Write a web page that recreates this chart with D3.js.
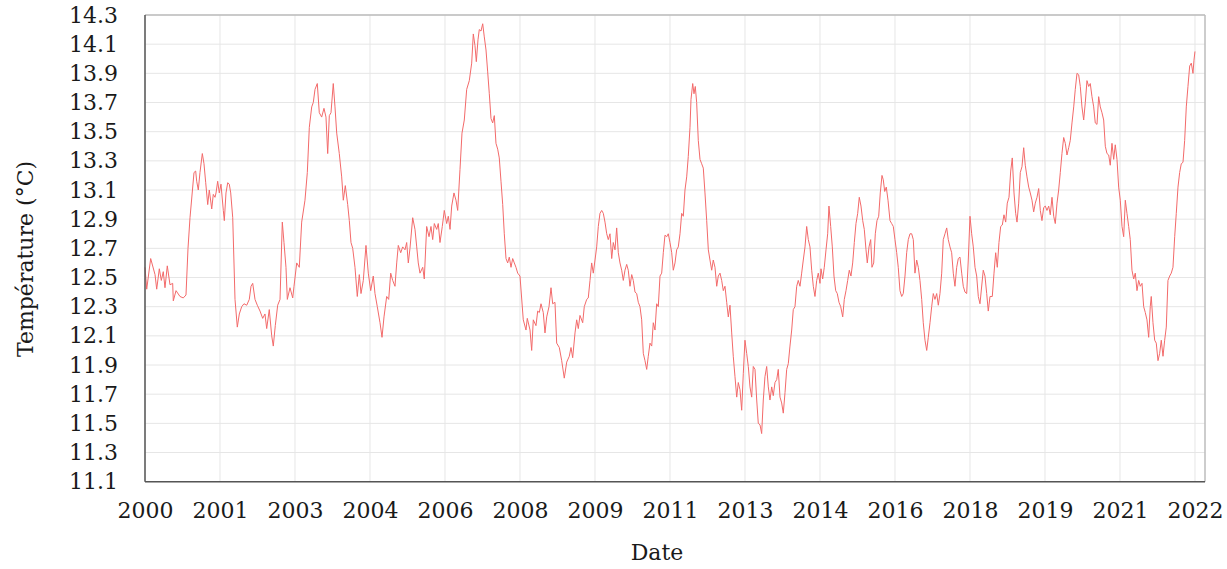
<!DOCTYPE html>
<html><head><meta charset="utf-8">
<script src="https://cdn.jsdelivr.net/npm/d3@7"></script>
<style>body{margin:0;background:#fff}svg{display:block}</style>
</head><body>
<svg id="chart" width="1227" height="569"></svg>
<script>
// Decimal years of the readings
const dates = [
2000.000,2000.036,2000.119,2000.210,2000.245,2000.300,2000.342,2000.383,2000.419,2000.467,2000.524,2000.580,2000.593,2000.650,2000.733,2000.802,2000.859,2000.901,2000.943,2001.027,2001.062,2001.083,2001.117,2001.152,2001.201,2001.236,2001.272,2001.314,2001.347,2001.398,2001.431,2001.467,2001.488,2001.523,2001.557,2001.592,2001.641,2001.662,2001.697,2001.733,2001.766,2001.796,2001.838,2001.886,2001.934,2001.976,2002.026,2002.074,2002.131,2002.185,2002.221,2002.257,2002.305,2002.353,2002.410,2002.466,2002.514,2002.550,2002.604,2002.655,2002.688,2002.730,2002.780,2002.829,2002.877,2002.912,2002.954,
2002.982,2003.038,2003.095,2003.122,2003.179,2003.233,2003.283,2003.352,2003.401,2003.443,2003.493,2003.526,2003.562,2003.610,2003.652,2003.702,2003.750,2003.792,2003.828,2003.862,2003.897,2003.945,2003.981,2004.017,2004.071,2004.121,2004.155,2004.197,2004.247,2004.281,2004.316,2004.352,2004.400,2004.448,2004.490,2004.526,2004.574,2004.630,2004.679,2004.729,2004.783,2004.819,2004.867,2004.924,2004.966,2005.008,2005.064,2005.106,2005.148,2005.190,2005.238,2005.274,2005.307,2005.358,2005.399,2005.448,2005.483,2005.517,2005.552,2005.609,2005.657,2005.693,2005.726,2005.762,2005.819,2005.852,2005.902,2005.951,2005.992,2006.028,2006.062,2006.112,2006.145,2006.181,2006.229,2006.271,2006.321,2006.355,2006.391,2006.426,2006.474,2006.516,2006.552,2006.600,2006.642,2006.690,2006.740,2006.795,2006.845,2006.879,2006.914,2006.942,2006.977,2007.004,2007.040,2007.076,2007.109,2007.145,2007.180,2007.214,2007.250,2007.285,2007.319,2007.354,2007.390,2007.423,2007.459,2007.495,2007.528,2007.564,2007.599,2007.633,2007.669,2007.704,2007.738,2007.773,2007.809,2007.857,
2007.926,2007.983,2008.010,2008.067,2008.102,2008.136,2008.192,2008.228,2008.262,2008.297,2008.345,2008.381,2008.417,2008.465,2008.507,2008.542,2008.590,2008.626,2008.681,2008.731,2008.785,2008.836,2008.890,2008.926,2008.961,2009.010,2009.045,2009.079,2009.114,2009.171,2009.204,2009.255,2009.288,2009.324,2009.359,2009.393,2009.429,2009.464,2009.498,2009.533,2009.569,2009.603,2009.638,2009.674,2009.707,2009.743,2009.779,2009.812,2009.848,2009.883,2009.917,2009.952,2009.988,2010.022,2010.057,2010.093,2010.126,2010.162,2010.198,2010.231,2010.267,2010.302,2010.336,2010.371,2010.407,2010.441,2010.476,2010.512,2010.545,2010.581,2010.617,2010.650,2010.686,2010.721,2010.755,2010.791,2010.826,2010.860,2010.895,2010.931,2010.964,2011.000,2011.036,2011.069,2011.105,2011.140,2011.174,2011.210,2011.245,2011.279,2011.314,2011.350,2011.383,2011.419,2011.440,2011.476,2011.503,2011.530,2011.559,2011.593,2011.629,2011.664,2011.698,2011.733,2011.769,2011.803,2011.838,2011.874,2011.907,2011.943,2011.979,2012.012,2012.048,2012.083,2012.117,2012.152,2012.188,2012.222,2012.257,2012.293,2012.326,2012.362,2012.398,2012.431,2012.467,2012.502,2012.536,2012.571,2012.607,2012.641,2012.676,2012.712,2012.745,2012.781,2012.817,2012.850,
2012.886,2012.921,2012.955,2012.990,2013.026,2013.060,2013.095,2013.131,2013.164,2013.200,2013.236,2013.269,2013.305,2013.340,2013.374,2013.410,2013.445,2013.479,2013.514,2013.550,2013.583,2013.619,2013.655,2013.688,2013.724,2013.759,2013.793,2013.829,2013.864,2013.898,2013.933,2013.969,2014.003,2014.038,2014.074,2014.107,2014.143,2014.164,2014.199,2014.233,2014.269,2014.304,2014.331,2014.367,2014.401,2014.436,2014.472,2014.505,2014.541,2014.577,2014.619,2014.652,2014.688,2014.723,2014.757,2014.792,2014.828,2014.862,2014.897,2014.933,2014.966,2015.002,2015.038,2015.071,2015.107,2015.134,2015.170,2015.205,2015.232,2015.268,2015.302,2015.337,2015.373,2015.406,2015.442,2015.469,2015.499,2015.532,2015.568,2015.610,2015.645,2015.679,2015.714,2015.750,2015.783,2015.819,2015.855,2015.888,2015.924,2015.959,2015.993,2016.029,2016.064,2016.098,2016.133,2016.169,2016.203,2016.238,2016.274,2016.307,2016.343,2016.379,2016.412,2016.448,2016.483,2016.517,2016.552,2016.588,2016.622,2016.657,2016.693,2016.726,2016.762,2016.798,2016.831,2016.867,2016.902,2016.936,2016.971,2017.007,2017.041,2017.076,2017.112,2017.145,2017.181,2017.217,2017.250,2017.286,2017.321,2017.355,2017.391,2017.426,2017.460,
2017.495,2017.564,2017.600,2017.636,2017.669,2017.705,2017.753,2017.789,2017.824,2017.858,2017.893,2017.929,2017.963,2017.998,2018.034,2018.067,2018.103,2018.139,2018.172,2018.208,2018.243,2018.271,2018.306,2018.340,2018.375,2018.411,2018.444,2018.480,2018.516,2018.549,2018.585,2018.620,2018.654,2018.690,2018.725,2018.759,2018.794,2018.830,2018.864,2018.899,2018.935,2018.968,2019.004,2019.040,2019.073,2019.109,2019.144,2019.178,2019.213,2019.249,2019.283,2019.318,2019.354,2019.387,2019.423,2019.459,2019.492,2019.528,2019.563,2019.597,2019.632,2019.668,2019.702,2019.737,2019.773,2019.806,2019.842,2019.878,2019.911,2019.947,2019.982,2020.016,2020.051,2020.087,2020.121,2020.156,2020.192,2020.225,2020.261,2020.297,2020.330,2020.366,2020.401,2020.435,2020.471,2020.506,2020.540,2020.575,2020.611,2020.644,2020.680,2020.716,2020.749,2020.785,2020.820,2020.854,2020.890,2020.925,2020.959,2020.994,2021.030,2021.063,2021.084,2021.120,2021.156,2021.189,2021.225,2021.260,2021.294,2021.330,2021.365,2021.399,2021.434,2021.470,2021.503,2021.539,2021.575,2021.608,2021.644,2021.679,2021.713,2021.749,2021.784,2021.818,2021.853,2021.889,2021.923,2021.958,2021.979,2022.000
];
// Temperature readings (°C)
const temps = [
12.57,12.42,12.63,12.52,12.42,12.56,12.48,12.54,12.43,12.58,12.45,12.46,12.34,12.41,12.37,12.36,12.38,12.70,12.91,13.22,13.23,13.16,13.10,13.22,13.35,13.28,13.15,13.00,13.10,12.97,13.07,13.05,13.08,13.16,13.08,13.14,12.96,12.89,13.08,13.15,13.14,13.08,12.91,12.35,12.16,12.25,12.30,12.32,12.31,12.35,12.44,12.46,12.35,12.31,12.27,12.22,12.25,12.15,12.28,12.10,12.03,12.17,12.31,12.35,12.88,12.74,12.57,
12.35,12.43,12.36,12.44,12.60,12.57,12.88,13.03,13.22,13.53,13.67,13.70,13.79,13.83,13.63,13.60,13.66,13.60,13.35,13.61,13.63,13.83,13.67,13.49,13.35,13.19,13.03,13.13,13.00,12.89,12.74,12.70,12.57,12.37,12.52,12.39,12.48,12.72,12.53,12.41,12.51,12.39,12.30,12.19,12.09,12.23,12.37,12.35,12.53,12.48,12.44,12.60,12.72,12.67,12.71,12.69,12.74,12.60,12.70,12.91,12.83,12.71,12.60,12.53,12.57,12.49,12.85,12.78,12.85,12.76,12.87,12.83,12.87,12.74,12.85,12.96,12.87,12.92,12.83,12.99,13.08,13.03,12.96,13.24,13.49,13.58,13.79,13.85,13.97,14.17,14.09,13.98,14.13,14.20,14.19,14.24,14.15,14.06,13.91,13.76,13.59,13.56,13.61,13.42,13.38,13.32,13.16,13.00,12.80,12.63,12.60,12.64,12.57,12.63,12.60,12.57,12.53,12.51,
12.21,12.14,12.22,12.14,12.00,12.21,12.17,12.27,12.26,12.32,12.26,12.12,12.23,12.30,12.43,12.32,12.33,12.05,12.02,11.93,11.81,11.92,11.96,12.02,11.95,12.12,12.21,12.15,12.24,12.19,12.30,12.35,12.36,12.48,12.60,12.53,12.62,12.71,12.85,12.94,12.96,12.94,12.88,12.80,12.76,12.80,12.63,12.74,12.69,12.84,12.67,12.60,12.55,12.48,12.55,12.59,12.55,12.44,12.52,12.48,12.40,12.39,12.33,12.30,12.21,11.98,11.93,11.87,11.96,12.05,12.03,12.19,12.14,12.32,12.30,12.51,12.53,12.67,12.79,12.78,12.80,12.74,12.67,12.55,12.60,12.69,12.71,12.80,12.94,12.92,13.10,13.19,13.33,13.53,13.72,13.83,13.76,13.81,13.70,13.44,13.31,13.28,13.25,13.08,12.89,12.69,12.62,12.55,12.62,12.57,12.44,12.51,12.53,12.48,12.41,12.44,12.33,12.23,12.31,12.12,11.96,11.82,11.68,11.78,11.73,11.59,11.84,12.07,11.98,11.89,11.75,11.68,11.89,11.87,11.66,11.50,
11.49,11.43,11.66,11.82,11.89,11.75,11.66,11.75,11.69,11.78,11.80,11.87,11.68,11.64,11.57,11.71,11.87,11.91,12.03,12.14,12.28,12.30,12.44,12.48,12.44,12.53,12.62,12.71,12.85,12.76,12.71,12.55,12.44,12.37,12.48,12.53,12.46,12.56,12.49,12.57,12.69,12.80,12.99,12.85,12.71,12.51,12.41,12.39,12.33,12.30,12.23,12.35,12.41,12.48,12.55,12.51,12.60,12.74,12.87,12.94,13.05,12.99,12.89,12.83,12.69,12.60,12.71,12.76,12.57,12.60,12.80,12.89,12.92,13.08,13.20,13.17,13.09,13.12,13.03,12.89,12.87,12.85,12.76,12.67,12.57,12.41,12.37,12.39,12.51,12.67,12.76,12.80,12.80,12.76,12.53,12.62,12.57,12.48,12.35,12.19,12.07,12.00,12.09,12.19,12.30,12.39,12.35,12.39,12.31,12.39,12.53,12.76,12.80,12.84,12.76,12.71,12.67,12.53,12.44,12.57,12.63,12.64,12.53,12.44,12.40,12.39,12.62,12.92,12.80,12.71,12.57,12.51,12.37,
12.32,12.55,12.51,12.39,12.27,12.37,12.37,12.53,12.67,12.57,12.74,12.85,12.86,12.93,12.88,13.01,13.05,13.23,13.32,13.08,12.94,12.88,13.01,13.22,13.26,13.39,13.27,13.19,13.12,13.08,13.03,12.95,13.01,13.05,13.11,12.96,12.89,12.98,12.99,12.96,12.99,12.93,13.05,12.92,12.87,13.01,13.10,13.22,13.35,13.46,13.42,13.34,13.39,13.44,13.56,13.67,13.79,13.90,13.89,13.81,13.67,13.58,13.70,13.85,13.81,13.83,13.74,13.67,13.56,13.55,13.74,13.67,13.63,13.58,13.40,13.35,13.34,13.27,13.42,13.31,13.41,13.31,13.12,13.03,12.85,12.78,13.03,12.94,12.85,12.76,12.55,12.49,12.53,12.41,12.48,12.44,12.46,12.30,12.26,12.21,12.09,12.30,12.37,12.19,12.07,12.05,11.93,11.98,12.07,11.96,12.07,12.16,12.48,12.51,12.53,12.57,12.78,12.94,13.12,13.22,13.28,13.29,13.44,13.67,13.81,13.95,13.97,13.90,13.99,14.05
];

const yTickValues = [11.1,11.3,11.5,11.7,11.9,12.1,12.3,12.5,12.7,12.9,13.1,13.3,13.5,13.7,13.9,14.1,14.3];
const xTickLabels = ["2000","2001","2003","2004","2006","2008","2009","2011","2013","2014","2016","2018","2019","2021","2022"];
const xTickStart = 2000, xTickEnd = 2022;
const xDomain = [2000, 2022.21];
const yDomain = [11.1, 14.3];
const xTitle = "Date";
const yTitle = "Température (°C)";

const xTickValues = xTickLabels.map((_, i) => xTickStart + i * (xTickEnd - xTickStart) / (xTickLabels.length - 1));
const series = dates.map((d, i) => [d, temps[i]]);

const svg = d3.select("#chart");
const L = 145, R = 1205, T = 15, B = 481.7;
const x = d3.scaleLinear().domain(xDomain).range([L, R]);
const y = d3.scaleLinear().domain(yDomain).range([B, T]);
const font = "'DejaVu Serif', 'Liberation Serif', serif";

// grid
svg.append("g").selectAll("line").data(yTickValues).join("line")
  .attr("x1", L).attr("x2", R).attr("y1", d => y(d)).attr("y2", d => y(d))
  .attr("stroke", "#e6e6e6").attr("stroke-width", 1);
svg.append("g").selectAll("line").data(xTickValues).join("line")
  .attr("x1", d => x(d)).attr("x2", d => x(d)).attr("y1", T).attr("y2", B)
  .attr("stroke", "#e6e6e6").attr("stroke-width", 1);

// frame: light top/right
svg.append("line").attr("x1", L).attr("x2", R).attr("y1", T).attr("y2", T).attr("stroke", "#bdbdbd").attr("stroke-width", 1.5);
svg.append("line").attr("x1", R).attr("x2", R).attr("y1", T).attr("y2", B).attr("stroke", "#bdbdbd").attr("stroke-width", 1.5);

// line
svg.append("path").datum(series)
  .attr("fill", "none").attr("stroke", "#f36a6a").attr("stroke-width", 1).attr("stroke-linejoin", "round")
  .attr("d", d3.line().x(d => x(d[0])).y(d => y(d[1])));

// frame: dark left/bottom
svg.append("line").attr("x1", L).attr("x2", L).attr("y1", T).attr("y2", B).attr("stroke", "#555").attr("stroke-width", 1.5);
svg.append("line").attr("x1", L).attr("x2", R).attr("y1", B).attr("y2", B).attr("stroke", "#555").attr("stroke-width", 1.5);

// axes
const yAxis = d3.axisLeft(y).tickValues(yTickValues).tickFormat(d3.format(".1f")).tickSize(0).tickPadding(27);
const gy = svg.append("g").attr("transform", `translate(${L},0)`).call(yAxis);
gy.select(".domain").remove();
gy.selectAll("text").attr("font-family", font).attr("font-size", 22).attr("fill", "#1a1a1a");

const xAxis = d3.axisBottom(x).tickValues(xTickValues).tickFormat((d, i) => xTickLabels[i]).tickSize(0).tickPadding(21);
const gx = svg.append("g").attr("transform", `translate(0,${B})`).call(xAxis);
gx.select(".domain").remove();
gx.selectAll("text").attr("font-family", font).attr("font-size", 22).attr("fill", "#1a1a1a");

// titles
svg.append("text").attr("x", 657).attr("y", 560).attr("text-anchor", "middle")
  .attr("font-family", font).attr("font-size", 22).attr("fill", "#1a1a1a").text(xTitle);
svg.append("text").attr("transform", "translate(33,259) rotate(-90)").attr("text-anchor", "middle")
  .attr("font-family", font).attr("font-size", 22).attr("fill", "#1a1a1a").text(yTitle);
</script>
</body></html>
